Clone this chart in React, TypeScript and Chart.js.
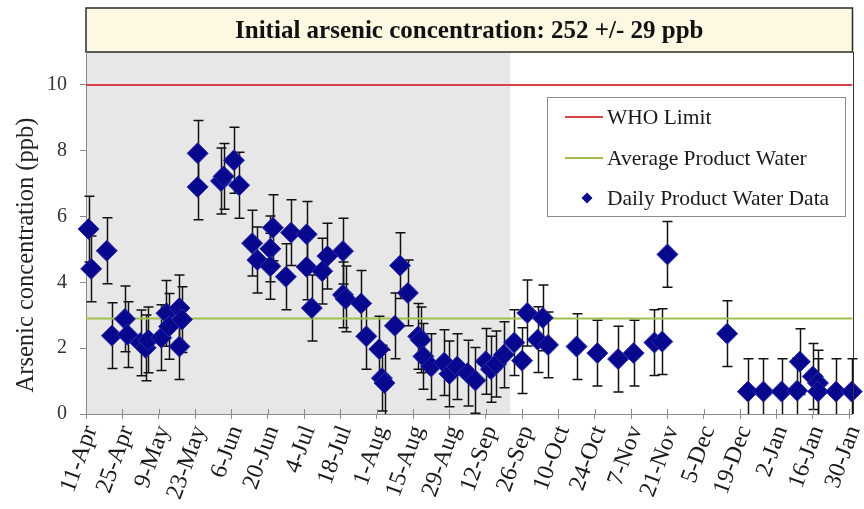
import React, { useEffect, useRef } from 'react';
import { Chart, registerables } from 'chart.js';

Chart.register(...registerables);

// ---- Data ----
const chartTitle = 'Initial arsenic concentration: 252 +/- 29 ppb';
const yAxisTitle = 'Arsenic concentration (ppb)';
const seriesLabels = ['WHO Limit', 'Average Product Water', 'Daily Product Water Data'];

const xTickDays = [0, 14, 28, 42, 56, 70, 84, 98, 112, 126, 140, 154, 168, 182, 196, 210, 224, 238, 252, 266, 280, 294];
const xTickLabels = ['11-Apr', '25-Apr', '9-May', '23-May', '6-Jun', '20-Jun', '4-Jul', '18-Jul', '1-Aug', '15-Aug', '29-Aug', '12-Sep', '26-Sep', '10-Oct', '24-Oct', '7-Nov', '21-Nov', '5-Dec', '19-Dec', '2-Jan', '16-Jan', '30-Jan'];
const yTickValues = [0, 2, 4, 6, 8, 10];

// days after 11-Apr
const sampleDays = [
  1, 2, 8, 10, 15, 16, 21, 23, 24, 29, 31, 32, 36, 36, 37,
  43, 43, 52, 53, 57, 59,
  64, 66, 71, 71, 72, 77, 79, 85, 85, 87, 91, 93, 99, 99, 100, 106, 108,
  113, 114, 115, 119, 121, 124, 128, 129, 130, 133, 138, 140, 143, 147, 150, 154, 156, 158, 161,
  165, 168, 170, 174, 176, 178, 189, 197, 205, 211, 219, 222, 224,
  247, 255, 261, 268, 274, 275, 280, 282, 282, 289, 295,
];
const arsenicPpb = [
  5.62, 4.41, 4.96, 2.38, 2.89, 2.41, 2.16, 2.01, 2.25, 2.32, 3.06, 2.66, 2.05, 3.22, 2.87,
  7.92, 6.9, 7.08, 7.22, 7.71, 6.95,
  5.19, 4.68, 5.02, 4.49, 5.66, 4.17, 5.51, 5.46, 4.47, 3.22, 4.34, 4.8, 4.95, 3.62, 3.5, 3.36, 2.36,
  1.97, 1.09, 0.94, 2.68, 4.51, 3.68, 2.36, 2.25, 1.75, 1.44, 1.56, 1.22, 1.44, 1.24, 1.02, 1.6, 1.36, 1.52, 1.8,
  2.17, 1.62, 3.07, 2.26, 2.92, 2.1, 2.05, 1.85, 1.67, 1.85, 2.17, 2.2, 4.85,
  2.44, 0.68, 0.68, 0.68, 0.71, 1.59, 1.14, 0.94, 0.68, 0.68, 0.68,
];
const errorPpb = 1.0;
const whoLimitPpb = 10;
const averageProductWaterPpb = 2.9;
const shadedUntilDay = 163.5;
const xMinDay = 0;
const xMaxDay = 295.3;
const yMax = 11;

// ---- Styles ----
const FONT = "'Liberation Serif', 'Times New Roman', serif";
const WHO_COLOR = '#d8404a';
const AVG_COLOR = '#a2bf4e';
const POINT_COLOR = '#08088f';
const POINT_BORDER = '#2a2aa8';

function diamond(ctx: CanvasRenderingContext2D, x: number, y: number, r: number) {
  ctx.beginPath();
  ctx.moveTo(x, y - r);
  ctx.lineTo(x + r, y);
  ctx.lineTo(x, y + r);
  ctx.lineTo(x - r, y);
  ctx.closePath();
}

const decorPlugin = {
  id: 'decor',
  beforeDraw(chart: any) {
    const { ctx, chartArea: ca, scales } = chart;
    ctx.save();
    ctx.fillStyle = '#ffffff';
    ctx.fillRect(0, 0, chart.width, chart.height);
    const gx = scales.x.getPixelForValue(shadedUntilDay);
    ctx.fillStyle = '#e7e7e7';
    ctx.fillRect(ca.left, ca.top, gx - ca.left, ca.bottom - ca.top);
    // title box
    ctx.fillStyle = '#fdf8e2';
    ctx.fillRect(ca.left, 8, ca.right - ca.left, ca.top - 8);
    ctx.strokeStyle = '#2a2a2a';
    ctx.lineWidth = 1.5;
    ctx.strokeRect(ca.left, 8, ca.right - ca.left, ca.top - 8);
    ctx.restore();
  },
  beforeDatasetsDraw(chart: any) {
    const { ctx, chartArea: ca, scales } = chart;
    const xs = scales.x;
    const ys = scales.y;
    ctx.save();
    ctx.beginPath();
    ctx.rect(ca.left - 30, ca.top, ca.right - ca.left + 60, ca.bottom - ca.top);
    ctx.clip();
    ctx.strokeStyle = '#111111';
    ctx.lineWidth = 1.5;
    for (let i = 0; i < sampleDays.length; i++) {
      const px = Math.round(xs.getPixelForValue(sampleDays[i])) + 0.5;
      const top = ys.getPixelForValue(arsenicPpb[i] + errorPpb);
      const bot = ys.getPixelForValue(arsenicPpb[i] - errorPpb);
      ctx.beginPath();
      ctx.moveTo(px, top);
      ctx.lineTo(px, bot);
      ctx.moveTo(px - 5, top);
      ctx.lineTo(px + 5, top);
      ctx.moveTo(px - 5, bot);
      ctx.lineTo(px + 5, bot);
      ctx.stroke();
    }
    ctx.restore();
  },
  afterDraw(chart: any) {
    const { ctx, chartArea: ca, scales } = chart;
    ctx.save();
    // right border of plot
    ctx.strokeStyle = '#333333';
    ctx.lineWidth = 1;
    ctx.beginPath();
    ctx.moveTo(Math.round(ca.right) + 0.5, ca.top);
    ctx.lineTo(Math.round(ca.right) + 0.5, ca.bottom);
    ctx.stroke();
    // inner part of x ticks
    ctx.strokeStyle = '#8a8a8a';
    ctx.beginPath();
    for (const d of xTickDays) {
      const px = Math.round(scales.x.getPixelForValue(d)) + 0.5;
      ctx.moveTo(px, ca.bottom - 5);
      ctx.lineTo(px, ca.bottom);
    }
    ctx.stroke();

    // y axis title
    ctx.fillStyle = '#222222';
    ctx.font = `24.5px ${FONT}`;
    ctx.textAlign = 'center';
    ctx.textBaseline = 'middle';
    ctx.translate(27, 255);
    ctx.rotate(-Math.PI / 2);
    ctx.fillText(yAxisTitle, 0, 0);
    ctx.setTransform(1, 0, 0, 1, 0, 0);

    // legend
    const lx = 547.5, ly = 97.5, lw = 298, lh = 119;
    ctx.fillStyle = '#ffffff';
    ctx.fillRect(lx, ly, lw, lh);
    ctx.strokeStyle = '#8c8c8c';
    ctx.lineWidth = 1;
    ctx.strokeRect(lx, ly, lw, lh);
    const rows = [117, 158, 198];
    const colors = [WHO_COLOR, AVG_COLOR];
    ctx.font = `21.5px ${FONT}`;
    ctx.textAlign = 'left';
    ctx.textBaseline = 'middle';
    for (let i = 0; i < 3; i++) {
      const yy = rows[i];
      if (i < 2) {
        ctx.strokeStyle = colors[i];
        ctx.lineWidth = 2;
        ctx.beginPath();
        ctx.moveTo(565, yy);
        ctx.lineTo(603, yy);
        ctx.stroke();
      } else {
        ctx.fillStyle = POINT_COLOR;
        diamond(ctx, 587, yy, 5.5);
        ctx.fill();
      }
      ctx.fillStyle = '#1a1a1a';
      ctx.fillText(seriesLabels[i], 607, yy + 1);
    }
    ctx.restore();
  },
};

export default function App() {
  const canvasRef = useRef<HTMLCanvasElement | null>(null);

  useEffect(() => {
    const canvas = canvasRef.current;
    if (!canvas) return;
    const dailyPoints = sampleDays.map((d, i) => ({ x: d, y: arsenicPpb[i] }));
    const chart = new Chart(canvas, {
      type: 'scatter',
      data: {
        datasets: [
          {
            label: seriesLabels[0],
            data: [{ x: xMinDay, y: whoLimitPpb }, { x: xMaxDay, y: whoLimitPpb }],
            showLine: true,
            borderColor: WHO_COLOR,
            borderWidth: 2,
            pointRadius: 0,
            order: 2,
          },
          {
            label: seriesLabels[1],
            data: [{ x: xMinDay, y: averageProductWaterPpb }, { x: xMaxDay, y: averageProductWaterPpb }],
            showLine: true,
            borderColor: AVG_COLOR,
            borderWidth: 2,
            pointRadius: 0,
            order: 1,
          },
          {
            label: seriesLabels[2],
            data: dailyPoints,
            pointStyle: 'rectRot',
            pointRadius: 10.5,
            backgroundColor: POINT_COLOR,
            borderColor: POINT_BORDER,
            borderWidth: 1,
            clip: false as any,
            order: 0,
          },
        ],
      },
      options: {
        responsive: false,
        animation: false,
        events: [],
        layout: { padding: { top: 8, left: 0, right: 5, bottom: 0 } },
        plugins: {
          legend: { display: false },
          tooltip: { enabled: false },
          title: {
            display: true,
            text: chartTitle,
            fullSize: false,
            color: '#111111',
            font: { family: FONT, size: 25, weight: 'bold', lineHeight: 1.2 },
            padding: { top: 9, bottom: 5 },
          },
        },
        scales: {
          x: {
            type: 'linear',
            min: xMinDay,
            max: xMaxDay,
            afterBuildTicks: (scale: any) => {
              scale.ticks = xTickDays.map((v) => ({ value: v }));
            },
            afterFit: (scale: any) => {
              scale.height = 95;
              scale.paddingLeft = 0;
              scale.paddingRight = 0;
            },
            grid: { drawOnChartArea: false, drawTicks: true, tickLength: 5, color: '#8a8a8a' },
            border: { display: true, color: '#8a8a8a', width: 1 },
            ticks: {
              autoSkip: false,
              minRotation: 70,
              maxRotation: 70,
              padding: 3,
              labelOffset: 5,
              color: '#1a1a1a',
              font: { family: FONT, size: 24 },
              callback: (value: any) => {
                const idx = xTickDays.indexOf(Number(value));
                return idx >= 0 ? xTickLabels[idx] : '';
              },
            },
          },
          y: {
            type: 'linear',
            min: 0,
            max: yMax,
            afterBuildTicks: (scale: any) => {
              scale.ticks = yTickValues.map((v) => ({ value: v }));
            },
            afterFit: (scale: any) => {
              scale.width = 86;
            },
            grid: { drawOnChartArea: false, drawTicks: true, tickLength: 6, color: '#8a8a8a' },
            border: { display: true, color: '#8a8a8a', width: 1 },
            ticks: {
              padding: 13,
              color: '#333333',
              font: { family: FONT, size: 20 },
            },
          },
        },
      } as any,
      plugins: [decorPlugin as any],
    });
    return () => chart.destroy();
  }, []);

  return (
    <div style={{ position: 'fixed', left: 0, top: 0, width: 864, height: 509, background: '#ffffff' }}>
      <canvas ref={canvasRef} width={864} height={509} style={{ display: 'block', width: 864, height: 509 }} />
    </div>
  );
}
